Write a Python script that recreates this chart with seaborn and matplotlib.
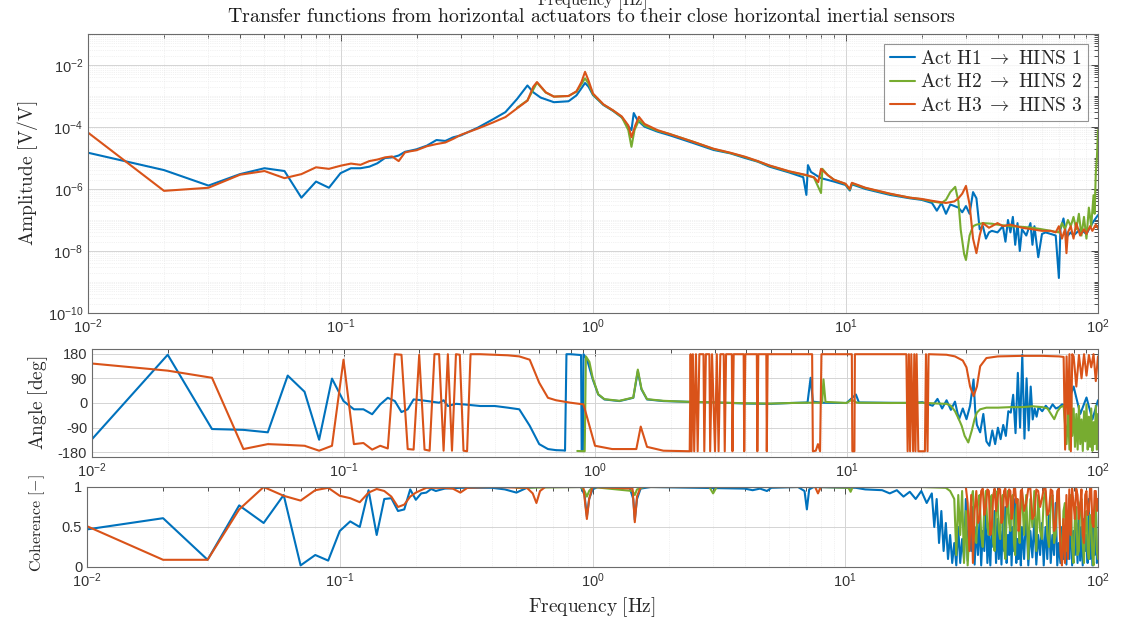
import matplotlib
matplotlib.use("Agg")
import matplotlib.pyplot as plt
import seaborn as sns
import pandas as pd
from matplotlib.ticker import LogLocator, FixedLocator, NullFormatter

# ---------------- DATA ----------------
# amplitude panel: (frequency [Hz], log10 amplitude [V/V])
amp_h1 = [(0.01,-4.83),(0.02,-5.39),(0.03,-5.89),(0.04,-5.52),(0.05,-5.33),(0.06,-5.42),(0.07,-6.28),
          (0.08,-5.76),(0.09,-5.96),(0.10,-5.49),(0.11,-5.33),(0.12,-5.33),(0.13,-5.28),(0.14,-5.17),
          (0.15,-5.00),(0.16,-4.98),(0.17,-4.92),(0.18,-4.80),(0.19,-4.76),(0.20,-4.72),(0.22,-4.60),
          (0.24,-4.42),(0.26,-4.45),(0.28,-4.33),(0.30,-4.27),(0.35,-4.02),(0.40,-3.76),(0.45,-3.52),
          (0.50,-3.10),(0.55,-2.66),(0.58,-2.88),(0.62,-3.05),(0.70,-3.20),(0.80,-3.17),(0.86,-2.98),
          (0.90,-2.75),(0.93,-2.58),(0.96,-2.70),(1.00,-2.97),(1.10,-3.29),(1.20,-3.48),(1.30,-3.69),
          (1.38,-3.98),(1.42,-4.10),(1.45,-3.55),(1.50,-3.78),(1.60,-3.99),(1.80,-4.15),(2.0,-4.26),
          (2.5,-4.52),(3.0,-4.74),(3.5,-4.85),(4.0,-5.00),(4.5,-5.12),(5.0,-5.28),(6.0,-5.47),
          (6.8,-5.62),(7.0,-6.19),(7.1,-5.23),(7.3,-5.45),(7.8,-5.60),(8.0,-5.65),(9.0,-5.76),
          (10.0,-5.87),(10.4,-6.05),(10.6,-5.85),(12.0,-6.00),(15.0,-6.19),(18.0,-6.30),(20.0,-6.35),
          (22.0,-6.45),(23.0,-6.70),(24.0,-6.45),(25.0,-6.80),(26.0,-6.50),(27.0,-6.55),(28.0,-6.60),
          (29.0,-6.75),(30.0,-6.55),(31.0,-6.80),(32.0,-6.10),(33.0,-6.30),(34.0,-7.30),(35.0,-7.20),
          (36.0,-7.60),(37.0,-7.40),(38.0,-7.35),(40.0,-7.40),(42.0,-7.20),(43.0,-7.70),(44.0,-7.00),
          (45.0,-7.40),(46.0,-6.90),(47.0,-7.80),(48.0,-7.10),(49.0,-8.00),(50.0,-7.30),(52.0,-7.50),
          (54.0,-7.10),(55.0,-7.80),(56.0,-7.20),(58.0,-8.20),(60.0,-7.45),(62.0,-7.40),(65.0,-7.45),
          (68.0,-7.50),(70.0,-8.87),(71.0,-7.30),(73.0,-6.95),(75.0,-7.55),(78.0,-7.40),(80.0,-7.50),
          (85.0,-7.30),(90.0,-7.45),(95.0,-7.10),(100.0,-6.84)]
amp_h2 = [(0.50,-3.38),(0.55,-3.14),(0.60,-2.57),(0.65,-2.89),(0.70,-3.02),(0.80,-3.00),(0.86,-2.86),
          (0.90,-2.62),(0.93,-2.43),(0.96,-2.60),(1.00,-2.95),(1.10,-3.28),(1.20,-3.47),(1.30,-3.68),
          (1.38,-4.10),(1.42,-4.64),(1.46,-4.10),(1.52,-3.78),(1.60,-3.95),(1.80,-4.12),(2.0,-4.22),
          (2.5,-4.48),(3.0,-4.71),(3.5,-4.84),(4.0,-4.97),(4.5,-5.11),(5.0,-5.25),(6.0,-5.44),
          (7.0,-5.56),(7.5,-5.63),(8.0,-6.13),(8.1,-5.35),(8.5,-5.55),(9.0,-5.70),(10.0,-5.84),
          (10.4,-6.02),(10.6,-5.82),(12.0,-5.97),(15.0,-6.16),(18.0,-6.28),(20.0,-6.33),(22.0,-6.40),
          (24.0,-6.45),(25.0,-6.35),(26.0,-6.10),(27.2,-5.93),(28.0,-6.40),(28.6,-7.32),(29.5,-8.10),
          (30.0,-8.29),(31.0,-7.50),(32.0,-7.20),(33.0,-7.15),(35.0,-7.10),(38.0,-7.12),(40.0,-7.15),
          (45.0,-7.20),(50.0,-7.22),(55.0,-7.25),(60.0,-7.30),(65.0,-7.35),(70.0,-7.40),(72.0,-7.10),
          (74.0,-7.30),(76.0,-7.00),(78.0,-7.20),(80.0,-6.90),(82.0,-7.30),(84.0,-6.80),(86.0,-7.50),
          (88.0,-6.90),(90.0,-7.60),(92.0,-6.60),(94.0,-7.20),(96.0,-6.20),(97.0,-6.80),(98.0,-5.50),
          (99.0,-5.00),(100.0,-4.10)]
amp_h3 = [(0.01,-4.18),(0.02,-6.06),(0.03,-5.96),(0.04,-5.54),(0.05,-5.42),(0.06,-5.65),(0.07,-5.52),
          (0.08,-5.30),(0.09,-5.35),(0.10,-5.25),(0.11,-5.18),(0.12,-5.22),(0.13,-5.10),(0.14,-5.05),
          (0.15,-4.98),(0.16,-4.95),(0.17,-5.10),(0.18,-4.82),(0.19,-4.78),(0.20,-4.75),(0.22,-4.62),
          (0.24,-4.55),(0.26,-4.50),(0.28,-4.38),(0.30,-4.25),(0.35,-4.05),(0.40,-3.86),(0.45,-3.68),
          (0.50,-3.40),(0.55,-3.15),(0.58,-2.70),(0.60,-2.55),(0.65,-2.88),(0.70,-3.02),(0.80,-3.00),
          (0.86,-2.85),(0.90,-2.55),(0.93,-2.22),(0.96,-2.50),(1.00,-2.92),(1.10,-3.27),(1.20,-3.46),
          (1.30,-3.66),(1.38,-3.95),(1.42,-4.33),(1.47,-3.95),(1.52,-3.67),(1.60,-3.90),(1.80,-4.10),
          (2.0,-4.22),(2.5,-4.48),(3.0,-4.70),(3.5,-4.83),(4.0,-4.96),(4.5,-5.10),(5.0,-5.24),
          (6.0,-5.43),(7.0,-5.55),(7.5,-5.62),(7.8,-5.78),(8.0,-5.35),(8.5,-5.55),(9.0,-5.70),
          (10.0,-5.83),(10.4,-6.00),(10.6,-5.80),(12.0,-5.96),(15.0,-6.15),(18.0,-6.28),(20.0,-6.32),
          (22.0,-6.38),(25.0,-6.45),(27.0,-6.40),(28.0,-6.30),(29.0,-6.15),(30.0,-5.90),(31.0,-6.50),
          (32.0,-7.60),(33.0,-8.07),(34.0,-7.50),(35.0,-7.10),(37.0,-7.25),(40.0,-7.10),(42.0,-7.20),
          (45.0,-7.15),(50.0,-7.25),(55.0,-7.30),(60.0,-7.35),(65.0,-7.35),(68.0,-7.40),(70.0,-7.20),
          (72.0,-7.60),(74.0,-7.30),(75.0,-8.07),(76.0,-7.40),(78.0,-7.20),(80.0,-7.60),(82.0,-7.10),
          (85.0,-7.50),(88.0,-7.30),(90.0,-7.45),(93.0,-7.20),(95.0,-7.35),(98.0,-7.15),(100.0,-7.26)]

# phase panel: (frequency [Hz], angle [deg])
phase_h1 = [(0.01,-132),(0.02,176),(0.03,-95),(0.04,-98),(0.05,-107),(0.06,100),(0.07,41),(0.08,-134),
            (0.09,89),(0.10,7),(0.11,-23),(0.12,-23),(0.13,-41),(0.14,-5),(0.15,19),(0.16,7),(0.17,-33),
            (0.18,-23),(0.19,13),(0.20,11),(0.22,6),(0.24,1),(0.25,10),(0.26,-11),(0.28,-3),(0.30,-5),
            (0.35,-11),(0.40,-11),(0.45,-17),(0.50,-23),(0.55,-83),(0.60,-150),(0.65,-168),(0.70,-172),
            (0.75,-173),(0.76,-174),(0.77,178),(0.80,178),(0.85,176),(0.88,175),(0.885,-172),(0.895,-172),
            (0.90,178),(0.93,158),(0.98,86),(1.03,31),(1.09,13),(1.25,7),(1.42,19),(1.48,116),(1.53,50),
            (1.61,13),(1.87,7),(2.4,4),(3.0,2),(4.0,-2),(5.0,-3),(6.0,0),(7.0,2),(7.2,92),(7.35,5),
            (8.0,1),(10.0,0),(10.9,31),(11.2,2),(14.0,1),(18.0,0),(20.0,3),(22.0,-10),(23.0,15),
            (24.0,-20),(25.0,10),(26.0,-25),(27.0,5),(28.0,-60),(29.0,-20),(30.0,-59),(31.0,-10),
            (32.0,86),(32.5,-30),(33.0,-80),(34.0,-107),(35.0,-40),(36.0,-140),(37.0,-156),(38.0,-100),
            (39.0,-150),(40.0,-90),(41.0,-132),(42.0,-80),(43.0,-120),(44.0,-30),(45.0,-35),(46.0,30),
            (47.0,-110),(48.0,110),(49.0,-90),(50.0,176),(51.0,-130),(52.0,90),(53.0,-100),(54.0,60),
            (55.0,-60),(56.0,-20),(57.0,-50),(58.0,-15),(60.0,-30),(62.0,-10),(64.0,-25),(66.0,-5),
            (68.0,-20),(70.0,-15),(72.0,-5),(75.0,-10),(80.0,60),(85.0,-40),(90.0,20),(95.0,-60),(100.0,10)]
phase_h2 = [(0.85,-175),(0.90,-176),(0.91,-176),(0.92,170),(0.95,150),(0.98,90),(1.03,32),(1.09,14),
            (1.25,8),(1.42,20),(1.48,122),(1.53,52),(1.61,14),(1.87,8),(2.4,4),(3.0,2),(4.0,-1),(5.0,-2),
            (6.0,0),(7.0,1),(8.0,1),(8.1,86),(8.25,4),(10.0,0),(10.5,12),(11.0,1),(15.0,0),(20.0,1),
            (23.0,-2),(25.0,-3),(26.0,-10),(27.0,-30),(28.0,-60),(28.7,-83),(29.5,-120),(30.5,-144),
            (31.5,-100),(32.3,-59),(33.0,-35),(34.0,-23),(36.0,-17),(40.0,-17),(45.0,-15),(50.0,-15),
            (55.0,-12),(60.0,-15),(63.0,-20),(65.0,-40),(67.0,-59),(69.0,-30),(71.0,-15),(73.0,-10),
            (75.0,-150),(76.0,-20),(77.0,-170),(78.0,60),(79.0,-120),(80.0,-20),(81.0,-160),(82.0,-40),
            (83.0,-170),(84.0,-10),(85.0,-150),(86.0,-60),(87.0,-175),(88.0,-30),(89.0,-140),(90.0,-5),
            (91.0,-170),(92.0,-50),(93.0,-160),(94.0,-20),(95.0,-175),(96.0,-70),(97.0,-150),(98.0,-10),
            (99.0,-170),(100.0,-40)]
phase_h3 = [(0.01,144),(0.02,118),(0.03,92),(0.04,-168),(0.05,-150),(0.06,-153),(0.07,-156),(0.08,-174),
            (0.09,-156),(0.10,158),(0.11,-150),(0.12,-146),(0.13,-170),(0.14,-156),(0.15,-166),(0.16,178),
            (0.17,176),(0.18,-168),(0.19,-170),(0.20,176),(0.21,-170),(0.22,-174),(0.23,178),(0.24,178),
            (0.25,-174),(0.26,178),(0.27,-174),(0.28,178),(0.29,176),(0.30,-174),(0.31,-176),(0.32,178),
            (0.35,178),(0.40,176),(0.45,174),(0.50,170),(0.55,158),(0.60,74),(0.65,19),(0.70,10),(0.80,1),
            (0.90,-5),(0.95,-83),(1.00,-156),(1.17,-168),(1.46,-168),(1.52,-86),(1.61,-160),(1.87,-174),
            (2.38,-176),(2.40,178),(2.42,-176),(2.45,178),(2.48,-176),(2.52,178),(2.56,-176),(2.60,178),
            (2.70,178),(2.72,-176),(2.76,178),(2.85,178),(2.87,-176),(2.92,178),(3.00,-176),(3.05,178),
            (3.10,-176),(3.15,178),(3.25,178),(3.28,-176),(3.32,178),(3.50,178),(3.52,-176),(3.56,178),
            (3.90,178),(3.92,-176),(3.96,178),(4.40,178),(4.42,-176),(4.46,178),(4.80,178),(4.82,-176),
            (4.86,178),(7.30,178),(7.35,-176),(7.55,-174),(7.70,-150),(7.85,-176),(7.95,178),(10.5,178),
            (10.55,-176),(10.75,-176),(10.8,178),(17.3,178),(17.5,-176),(17.7,178),(17.9,-176),(18.1,178),
            (18.4,-176),(18.6,178),(18.8,-176),(19.0,178),(19.3,-176),(20.0,-176),(20.5,-176),(20.7,178),
            (21.0,-176),(21.2,178),(25.0,176),(27.0,170),(29.0,155),(30.0,130),(31.0,60),(32.0,25),
            (33.0,60),(34.0,134),(36.0,164),(40.0,170),(50.0,172),(60.0,172),(70.0,170),(73.0,168),
            (74.0,-170),(75.0,170),(76.0,-40),(77.0,178),(78.0,-176),(79.0,178),(80.0,170),(82.0,60),
            (84.0,175),(86.0,90),(88.0,178),(90.0,100),(92.0,175),(94.0,130),(96.0,178),(98.0,80),(100.0,170)]

# coherence panel: (frequency [Hz], coherence [-])
coh_h1 = [(0.01,0.47),(0.02,0.61),(0.03,0.09),(0.04,0.77),(0.05,0.55),(0.06,0.90),(0.07,0.02),(0.08,0.15),
          (0.09,0.08),(0.10,0.45),(0.11,0.57),(0.12,0.50),(0.13,0.96),(0.14,0.40),(0.15,0.85),(0.16,0.86),
          (0.17,0.70),(0.18,0.72),(0.19,0.97),(0.20,0.84),(0.21,0.92),(0.22,0.93),(0.23,0.975),(0.24,0.95),
          (0.26,0.98),(0.30,0.99),(0.40,0.99),(0.45,0.97),(0.50,0.93),(0.55,0.99),(0.60,1.0),(0.90,1.0),
          (0.93,0.90),(0.95,0.63),(0.97,0.85),(1.00,0.97),(1.05,1.0),(1.40,1.0),(1.45,0.85),(1.47,0.59),
          (1.50,0.85),(1.55,0.98),(1.70,1.0),(4.0,0.98),(4.3,0.96),(4.6,0.98),(4.9,0.95),(5.1,0.99),
          (6.5,1.0),(6.9,0.95),(7.05,0.72),(7.2,0.97),(7.5,1.0),(11.0,0.99),(12.0,0.97),(14.0,0.96),
          (15.0,0.92),(16.0,0.96),(17.0,0.88),(18.0,0.94),(19.0,0.85),(20.0,0.95),(21.0,0.80),(22.0,0.92),
          (22.5,0.50),(23.0,0.85),(23.5,0.30),(24.0,0.70),(24.5,0.20),(25.0,0.55),(25.5,0.10),(26.0,0.40),
          (26.5,0.05),(27.0,0.30),(27.5,0.02),(28.0,0.50),(28.5,0.05),(29.0,0.35),(29.5,0.10),(30.0,0.85),
          (30.5,0.08),(31.0,0.60),(31.5,0.20),(32.0,0.75),(32.5,0.03),(33.0,0.50),(33.5,0.15),(34.0,0.60),
          (34.5,0.02),(35.0,0.45),(35.5,0.20),(36.0,0.80),(36.5,0.05),(37.0,0.40),(37.5,0.02),(38.0,0.55),
          (38.5,0.25),(39.0,0.70),(39.5,0.05),(40.0,0.60),(40.5,0.10),(41.0,0.45),(41.5,0.03),(42.0,0.55),
          (42.5,0.20),(43.0,0.75),(43.5,0.05),(44.0,0.40),(44.5,0.15),(45.0,0.65),(45.5,0.02),(46.0,0.50),
          (46.5,0.20),(47.0,0.85),(47.5,0.05),(48.0,0.35),(48.5,0.10),(49.0,0.60),(49.5,0.02),(50.0,0.50),
          (51.0,0.10),(52.0,0.70),(53.0,0.02),(54.0,0.45),(55.0,0.12),(56.0,0.60),(57.0,0.03),(58.0,0.40),
          (59.0,0.15),(60.0,0.55),(61.0,0.02),(62.0,0.50),(63.0,0.10),(64.0,0.65),(65.0,0.05),(66.0,0.40),
          (67.0,0.15),(68.0,0.80),(69.0,0.02),(70.0,0.30),(71.0,0.05),(72.0,0.50),(73.0,0.10),(74.0,0.45),
          (75.0,0.03),(76.0,0.60),(77.0,0.10),(78.0,0.70),(79.0,0.02),(80.0,0.45),(81.0,0.15),(82.0,0.55),
          (83.0,0.05),(84.0,0.75),(85.0,0.08),(86.0,0.50),(87.0,0.02),(88.0,0.60),(89.0,0.20),(90.0,0.40),
          (91.0,0.05),(92.0,0.85),(93.0,0.10),(94.0,0.55),(95.0,0.02),(96.0,0.65),(97.0,0.15),(98.0,0.90),
          (99.0,0.05),(100.0,0.20)]
coh_h2 = [(0.50,0.99),(0.90,1.0),(0.93,0.95),(0.95,0.88),(0.97,0.95),(1.0,1.0),(1.44,0.95),(1.47,0.90),
          (1.50,0.97),(1.6,1.0),(2.9,1.0),(3.0,0.92),(3.1,1.0),(8.0,1.0),(10.3,0.99),(10.5,0.94),(10.7,1.0),
          (20.0,1.0),(25.0,0.99),(26.0,0.95),(27.0,0.85),(27.5,0.15),(28.0,0.90),(28.5,0.40),(29.0,0.95),
          (29.5,0.05),(30.0,0.70),(30.5,0.02),(31.0,0.50),(31.5,0.85),(32.0,0.95),(32.5,0.35),(33.0,0.30),
          (33.5,0.80),(34.0,0.90),(34.5,0.40),(35.0,0.25),(35.5,0.75),(36.0,0.95),(36.5,0.50),(37.0,0.40),
          (37.5,0.85),(38.0,0.90),(38.5,0.30),(39.0,0.20),(39.5,0.70),(40.0,0.95),(40.5,0.45),(41.0,0.35),
          (41.5,0.80),(42.0,0.90),(42.5,0.25),(43.0,0.10),(43.5,0.65),(44.0,0.95),(44.5,0.55),(45.0,0.45),
          (45.5,0.85),(46.0,0.90),(46.5,0.30),(47.0,0.15),(47.5,0.70),(48.0,0.85),(48.5,0.45),(49.0,0.30),
          (49.5,0.80),(50.0,0.95),(51.0,0.40),(52.0,0.90),(53.0,0.10),(54.0,0.85),(55.0,0.50),(56.0,0.95),
          (57.0,0.20),(58.0,0.90),(59.0,0.45),(60.0,0.35),(61.0,0.85),(62.0,0.95),(63.0,0.40),(64.0,0.25),
          (65.0,0.80),(66.0,0.90),(67.0,0.30),(68.0,0.40),(69.0,0.85),(70.0,0.85),(71.0,0.35),(72.0,0.10),
          (73.0,0.70),(74.0,0.80),(75.0,0.20),(76.0,0.30),(77.0,0.85),(78.0,0.90),(79.0,0.25),(80.0,0.05),
          (81.0,0.60),(82.0,0.75),(83.0,0.15),(84.0,0.20),(85.0,0.80),(86.0,0.85),(87.0,0.30),(88.0,0.05),
          (89.0,0.55),(90.0,0.70),(91.0,0.20),(92.0,0.10),(93.0,0.65),(94.0,0.60),(95.0,0.15),(96.0,0.02),
          (97.0,0.50),(98.0,0.80),(99.0,0.20),(100.0,0.10)]
coh_h3 = [(0.01,0.51),(0.02,0.09),(0.03,0.09),(0.04,0.72),(0.05,1.0),(0.06,0.89),(0.07,0.83),(0.08,0.96),
          (0.09,0.99),(0.10,0.89),(0.11,0.86),(0.12,0.81),(0.13,0.93),(0.14,0.975),(0.15,0.95),(0.16,0.88),
          (0.17,0.75),(0.18,0.78),(0.19,0.88),(0.20,0.93),(0.22,0.99),(0.26,0.99),(0.28,0.98),(0.30,0.93),
          (0.32,0.99),(0.40,1.0),(0.55,0.99),(0.58,0.92),(0.60,0.80),(0.62,0.95),(0.65,1.0),(0.92,1.0),
          (0.95,0.60),(0.97,0.85),(1.0,1.0),(1.44,0.98),(1.47,0.56),(1.50,0.88),(1.55,1.0),(7.6,1.0),
          (7.8,0.92),(8.0,1.0),(30.0,1.0),(30.5,0.80),(31.0,0.20),(31.5,0.90),(32.0,0.05),(32.5,0.70),
          (33.0,0.95),(33.5,0.55),(34.0,0.60),(34.5,0.95),(35.0,0.98),(35.5,0.65),(36.0,0.75),(36.5,0.97),
          (37.0,0.95),(37.5,0.40),(38.0,0.50),(38.5,0.90),(39.0,0.98),(39.5,0.70),(40.0,0.85),(40.5,0.98),
          (41.0,0.97),(41.5,0.55),(42.0,0.60),(42.5,0.95),(43.0,0.98),(43.5,0.75),(44.0,0.80),(44.5,0.97),
          (45.0,0.95),(45.5,0.60),(46.0,0.70),(46.5,0.98),(47.0,0.98),(47.5,0.80),(48.0,0.85),(48.5,0.45),
          (49.0,0.55),(49.5,0.95),(50.0,0.97),(51.0,0.70),(52.0,0.80),(53.0,0.98),(54.0,0.98),(55.0,0.60),
          (56.0,0.65),(57.0,0.97),(58.0,0.95),(59.0,0.75),(60.0,0.85),(61.0,0.98),(62.0,0.98),(63.0,0.65),
          (64.0,0.70),(65.0,0.97),(66.0,0.95),(67.0,0.45),(68.0,0.50),(69.0,0.95),(70.0,0.98),(71.0,0.20),
          (72.0,0.02),(73.0,0.60),(74.0,0.05),(75.0,0.90),(76.0,0.10),(77.0,0.97),(78.0,0.40),(79.0,0.98),
          (80.0,0.80),(81.0,0.60),(82.0,0.98),(83.0,0.90),(84.0,0.60),(85.0,0.75),(86.0,0.97),(87.0,0.40),
          (88.0,0.30),(89.0,0.90),(90.0,0.95),(91.0,0.65),(92.0,0.70),(93.0,0.98),(94.0,0.98),(95.0,0.55),
          (96.0,0.50),(97.0,0.95),(98.0,0.95),(99.0,0.70),(100.0,0.85)]

series_labels = ["H1", "H2", "H3"]
ytick_angle = [-180, -90, 0, 90, 180]
ytick_coh = [0, 0.5, 1]

# ---------------- STYLE ----------------
sns.set_theme(style="white")
plt.rcParams["font.family"] = ["Liberation Sans", "DejaVu Sans"]
plt.rcParams["mathtext.fontset"] = "cm"

colors = ["#0072BD", "#77AC30", "#D95319"]
W, H = 1142, 623


def cm(s):
    return r"$\mathrm{" + s.replace(" ", r"\ ") + "}$"


fig = plt.figure(figsize=(W / 100, H / 100), dpi=100)
ax1 = fig.add_axes([88 / W, 1 - 313 / H, 1010 / W, 279 / H])
ax2 = fig.add_axes([92 / W, 1 - 457 / H, 1006 / W, 108 / H])
ax3 = fig.add_axes([87 / W, 1 - 567 / H, 1011 / W, 80 / H])


def frame(ax):
    ax.set_xscale("log")
    ax.set_xlim(0.01, 100)
    ax.xaxis.set_major_locator(FixedLocator([0.01, 0.1, 1, 10, 100]))
    ax.xaxis.set_minor_locator(LogLocator(base=10, subs=range(2, 10), numticks=20))
    ax.xaxis.set_minor_formatter(NullFormatter())
    ax.tick_params(which="both", direction="in", top=True, right=True, labelsize=10.5,
                   colors="#333333", width=0.6)
    ax.tick_params(which="major", length=5)
    ax.tick_params(which="minor", length=3)
    ax.grid(which="major", color="#d4d4d4", lw=0.7)
    ax.grid(which="minor", color="#e6e6e6", lw=0.5, ls=":")
    for s in ax.spines.values():
        s.set_color("#6b6b6b")
        s.set_linewidth(0.8)
    ax.set_axisbelow(True)


for ax in (ax1, ax2, ax3):
    frame(ax)

amps = [amp_h1, amp_h2, amp_h3]
phases = [phase_h1, phase_h2, phase_h3]
cohs = [coh_h1, coh_h2, coh_h3]

for i, lab in enumerate(series_labels):
    df = pd.DataFrame(amps[i], columns=["f", "logA"])
    df["A"] = 10 ** df["logA"]
    n = lab[1]
    sns.lineplot(data=df, x="f", y="A", ax=ax1, color=colors[i], lw=1.5, sort=False,
                 estimator=None, label=r"$\mathrm{Act\ H%s}\ \rightarrow\ \mathrm{HINS\ %s}$" % (n, n))
    dp = pd.DataFrame(phases[i], columns=["f", "deg"])
    sns.lineplot(data=dp, x="f", y="deg", ax=ax2, color=colors[i], lw=1.5, sort=False, estimator=None)
    dc = pd.DataFrame(cohs[i], columns=["f", "c"])
    sns.lineplot(data=dc, x="f", y="c", ax=ax3, color=colors[i], lw=1.5, sort=False, estimator=None)

# amplitude axis
ax1.set_yscale("log")
ax1.set_ylim(1e-10, 1e-1)
ax1.yaxis.set_major_locator(FixedLocator([1e-10, 1e-8, 1e-6, 1e-4, 1e-2]))
ax1.yaxis.set_minor_locator(LogLocator(base=10, subs=range(1, 10), numticks=30))
ax1.yaxis.set_minor_formatter(NullFormatter())
ax1.set_xlabel("")
ax1.set_ylabel(cm("Amplitude [V/V]"), fontsize=14, color="#262626")
ax1.yaxis.set_label_coords(-0.0475, 0.5)
leg = ax1.legend(loc="upper right", fontsize=14, frameon=True, fancybox=False, handlelength=1.25,
                 handletextpad=0.3, labelspacing=0.3, borderpad=0.3, borderaxespad=0.5)
leg.get_frame().set_edgecolor("#7a7a7a")
leg.get_frame().set_linewidth(0.8)

# angle axis
ax2.set_ylim(-197, 197)
ax2.set_yticks(ytick_angle)
ax2.set_yticklabels([str(v) for v in ytick_angle])
ax2.set_xlabel("")
ax2.set_ylabel(cm("Angle [deg]"), fontsize=14, color="#262626")
ax2.yaxis.set_label_coords(-0.0417, 0.5)

# coherence axis
ax3.set_ylim(0, 1)
ax3.set_yticks(ytick_coh)
ax3.set_yticklabels(["0", "0.5", "1"])
ax3.set_xlabel("")
ax3.set_ylabel(cm("Coherence [-]"), fontsize=11.5, color="#262626")
ax3.yaxis.set_label_coords(-0.0396, 0.55)

fig.text(592 / W, 1 - 607 / H, cm("Frequency [Hz]"), ha="center", va="center", fontsize=14,
         color="#262626")
fig.text(592 / W, 1 - 17 / H,
         cm("Transfer functions from horizontal actuators to their close horizontal inertial sensors"),
         ha="center", va="center", fontsize=14.3, color="#1a1a1a")
fig.text(592 / W, 1 - 1 / H, cm("Frequency [Hz]"), ha="center", va="center", fontsize=12,
         color="#262626")

fig.savefig("out.png", dpi=100)
